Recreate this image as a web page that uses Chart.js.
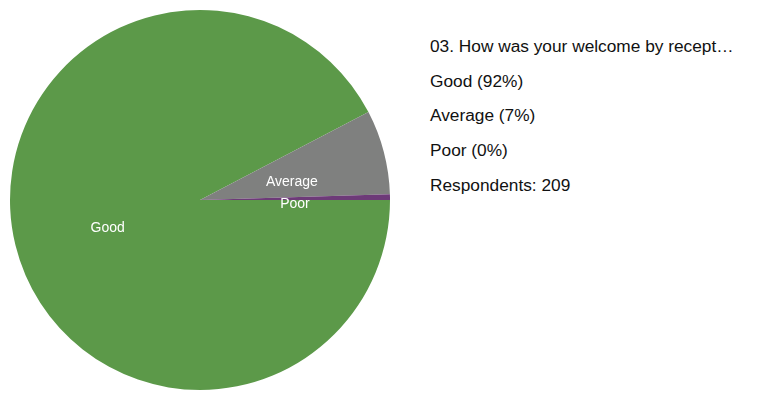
<!DOCTYPE html>
<html>
<head>
<meta charset="utf-8">
<script src="https://cdn.jsdelivr.net/npm/chart.js@4"></script>
<style>
    html, body { margin: 0; padding: 0; background: #fff; }
    #wrap { position: relative; width: 768px; height: 400px; overflow: hidden; }
    #pie { position: absolute; left: 0; top: 0; }
    .row {
        position: absolute;
        left: 430px;
        font-family: "Liberation Sans", Arial, sans-serif;
        font-size: 17.3px;
        line-height: 20px;
        color: #111;
        white-space: nowrap;
    }
</style>
</head>
<body>
<div id="wrap">
    <canvas id="pie" width="400" height="400"></canvas>
</div>
<script>
// chart data
const title = '03. How was your welcome by recept\u2026';
const categories = ['Good', 'Average', 'Poor'];
const counts = [193, 15, 1];
const colours = ['#5c9949', '#7f807f', '#6d3a78'];

const total = counts.reduce((a, b) => a + b, 0);

// Legend text on the right (baselines roughly 35px apart)
const rows = [title];
categories.forEach((c, i) => rows.push(c + ' (' + Math.round(counts[i] / total * 100) + '%)'));
rows.push('Respondents: ' + total);

const wrap = document.getElementById('wrap');
rows.forEach((txt, i) => {
    const div = document.createElement('div');
    div.className = 'row';
    div.style.top = (36 + i * 34.7) + 'px';
    div.textContent = txt;
    wrap.appendChild(div);
});

// Draws the category name inside each slice, halfway out
const sliceLabels = {
    id: 'sliceLabels',
    afterDatasetsDraw(chart) {
        const ctx = chart.ctx;
        const meta = chart.getDatasetMeta(0);
        ctx.save();
        ctx.fillStyle = '#ffffff';
        ctx.font = '14px "Liberation Sans", Arial, sans-serif';
        ctx.textAlign = 'center';
        ctx.textBaseline = 'middle';
        meta.data.forEach((arc, i) => {
            const p = arc.getProps(['x', 'y', 'startAngle', 'endAngle', 'outerRadius'], true);
            const mid = (p.startAngle + p.endAngle) / 2;
            const r = p.outerRadius * 0.5;
            ctx.fillText(categories[i], p.x + Math.cos(mid) * r, p.y + Math.sin(mid) * r + 6);
        });
        ctx.restore();
    }
};

new Chart(document.getElementById('pie'), {
    type: 'pie',
    data: {
        labels: categories,
        datasets: [{
            data: counts,
            backgroundColor: colours,
            borderWidth: 0
        }]
    },
    options: {
        responsive: false,
        animation: false,
        rotation: 90,
        layout: { padding: { left: 10, right: 10, top: 10, bottom: 10 } },
        plugins: {
            legend: { display: false },
            tooltip: { enabled: false }
        }
    },
    plugins: [sliceLabels]
});
</script>
</body>
</html>
